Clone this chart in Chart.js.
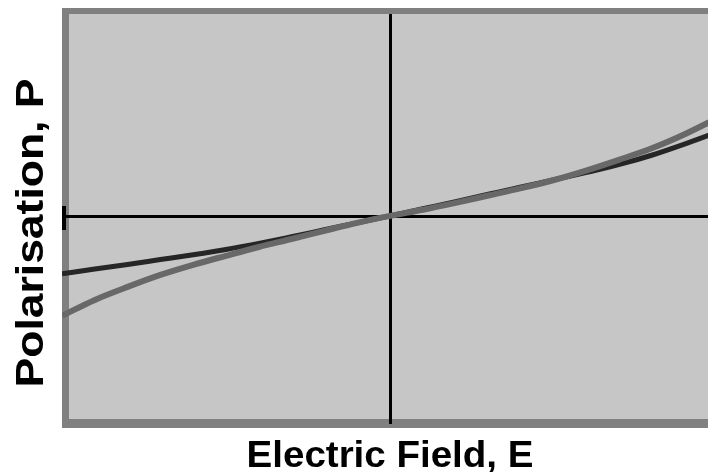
<!DOCTYPE html>
<html>
<head>
<meta charset="utf-8">
<script src="https://cdn.jsdelivr.net/npm/chart.js@4/dist/chart.umd.min.js"></script>
<style>
  html, body { margin: 0; padding: 0; background: #fff; overflow: hidden; }
  #wrap { position: absolute; left: 0; top: 0; width: 720px; height: 472px; }
</style>
</head>
<body>
<div id="wrap"><canvas id="chart"></canvas></div>
<script>
// Electric field samples (normalised, -1 .. 1)
const fieldE = [-1.0, -0.9, -0.8, -0.7, -0.6, -0.5, -0.4, -0.3, -0.2, -0.1, 0,
                 0.1, 0.2, 0.3, 0.4, 0.5, 0.6, 0.7, 0.8, 0.9, 1.0];

// Polarisation, dark curve (mildly asymmetric response)
const polarisationDark = [-0.276, -0.253, -0.231, -0.208, -0.185, -0.160, -0.131, -0.099, -0.066, -0.033, 0,
                           0.034, 0.068, 0.103, 0.138, 0.172, 0.207, 0.245, 0.290, 0.343, 0.400];

// Polarisation, grey curve (symmetric, steepening at both ends)
const polarisationGrey = [-0.476, -0.400, -0.338, -0.281, -0.233, -0.190, -0.148, -0.110, -0.071, -0.033, 0,
                           0.029, 0.062, 0.097, 0.132, 0.171, 0.217, 0.268, 0.323, 0.390, 0.467];

const xTitle = 'Electric Field, E';
const yTitle = 'Polarisation, P';

const toPoints = (ys) => fieldE.map((e, i) => ({ x: e, y: ys[i] }));

// Grey frame, inner panel and the two zero axes, drawn under the curves
const framePlugin = {
  id: 'frame',
  beforeDatasetsDraw(chart) {
    const { ctx, chartArea: a, scales: { x, y } } = chart;
    const x0 = Math.round(x.getPixelForValue(0));
    const y0 = Math.round(y.getPixelForValue(0));
    ctx.save();
    ctx.fillStyle = '#808080';
    ctx.fillRect(a.left, a.top, a.width, a.height);
    ctx.fillStyle = '#c6c6c6';
    ctx.fillRect(a.left + 7, a.top + 6, a.width - 14, a.height - 15);
    ctx.fillStyle = '#000';
    ctx.fillRect(x0 - 1, a.top + 6, 3, a.height - 10);
    ctx.fillRect(a.left, y0 - 1, a.width, 3);
    ctx.fillRect(a.left, y0 - 10, 4, 24);
    ctx.restore();
  }
};

// Axis titles (wide bold lettering)
function drawWide(ctx, text, x, y, size, stretch) {
  ctx.save();
  ctx.translate(x, y);
  ctx.scale(stretch, 1);
  ctx.font = 'bold ' + size + 'px "Liberation Sans", Arial, sans-serif';
  ctx.fillText(text, 0, 0);
  ctx.restore();
}

const titlePlugin = {
  id: 'axisTitles',
  afterDraw(chart) {
    const { ctx, chartArea: a, scales: { x } } = chart;
    ctx.save();
    ctx.fillStyle = '#000';
    ctx.textAlign = 'center';
    ctx.textBaseline = 'alphabetic';
    drawWide(ctx, xTitle, x.getPixelForValue(0), a.bottom + 39, 36, 1.07);
    ctx.translate(a.left - 19, a.top + 225);
    ctx.rotate(-Math.PI / 2);
    drawWide(ctx, yTitle, 0, 0, 38, 1.17);
    ctx.restore();
  }
};

new Chart(document.getElementById('chart'), {
  type: 'line',
  data: {
    datasets: [
      {
        label: 'Grey',
        data: toPoints(polarisationGrey),
        borderColor: '#686868',
        borderWidth: 6,
        pointRadius: 0,
        cubicInterpolationMode: 'monotone'
      },
      {
        label: 'Dark',
        data: toPoints(polarisationDark),
        borderColor: '#262626',
        borderWidth: 5,
        pointRadius: 0,
        cubicInterpolationMode: 'monotone'
      }
    ]
  },
  options: {
    responsive: true,
    maintainAspectRatio: false,
    animation: false,
    layout: { padding: { left: 62, top: 8, right: 2, bottom: 44 } },
    plugins: { legend: { display: false }, tooltip: { enabled: false } },
    scales: {
      x: { type: 'linear', min: -1, max: 1, display: false },
      y: { type: 'linear', min: -1.01, max: 0.99, display: false }
    }
  },
  plugins: [framePlugin, titlePlugin]
});
</script>
</body>
</html>
